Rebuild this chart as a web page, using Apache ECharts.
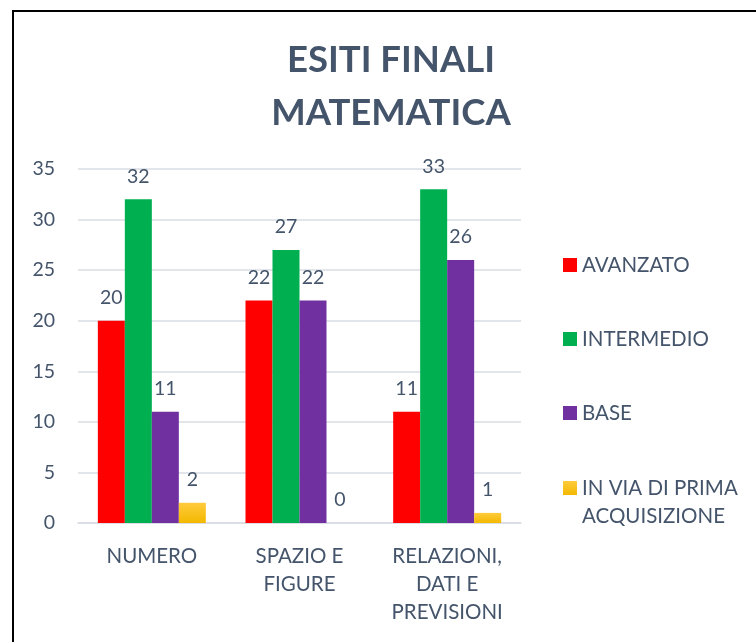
<!doctype html>
<html lang="it">
<head>
    <meta charset="UTF-8">
    <title>Esiti finali matematica</title>
    <script src="https://cdn.jsdelivr.net/npm/echarts@6/dist/echarts.min.js"></script>
    <style>
        html, body { margin: 0; padding: 0; background: #fff; }
        #chart { width: 756px; height: 642px; }
    </style>
</head>
<body>
    <div id="chart"></div>
    <script>
        // dati
        const categorie = ['NUMERO', 'SPAZIO E\nFIGURE', 'RELAZIONI,\nDATI E\nPREVISIONI'];
        const avanzato = [20, 22, 11];
        const intermedio = [32, 27, 33];
        const base = [11, 22, 26];
        const inVia = [2, 0, 1];
        const nomiSerie = ['AVANZATO', 'INTERMEDIO', 'BASE', 'IN VIA DI PRIMA ACQUISIZIONE'];
        const yTicks = { min: 0, max: 35, interval: 5 };

        const testo = '#44546A';
        const font = 'Lato';

        const etichetta = {
            show: true,
            position: 'top',
            distance: 13,
            color: testo,
            fontFamily: font,
            fontSize: 19.5
        };

        function serie(nome, dati, colore) {
            return {
                name: nome,
                type: 'bar',
                data: dati,
                barWidth: 27,
                barGap: '0%',
                itemStyle: { color: colore },
                label: etichetta
            };
        }

        const chart = echarts.init(document.getElementById('chart'));
        chart.setOption({
            animation: false,
            textStyle: { fontFamily: font },
            title: {
                text: 'ESITI FINALI\nMATEMATICA',
                left: 386,
                textAlign: 'center',
                top: 29,
                textStyle: {
                    color: testo,
                    fontFamily: font,
                    fontWeight: 'bold',
                    fontSize: 36.5,
                    lineHeight: 53
                }
            },
            graphic: [{
                type: 'rect',
                shape: { x: 13, y: 11, width: 900, height: 900 },
                style: { fill: 'none', stroke: '#000', lineWidth: 2 },
                silent: true
            }],
            legend: [{
                data: nomiSerie.slice(0, 3),
                orient: 'vertical',
                left: 563,
                top: 251,
                padding: 0,
                itemWidth: 14,
                itemHeight: 14,
                itemGap: 46,
                icon: 'rect',
                textStyle: { color: testo, fontFamily: font, fontSize: 20.5, lineHeight: 28 }
            }, {
                data: nomiSerie.slice(3),
                orient: 'vertical',
                left: 563,
                top: 446,
                padding: 0,
                itemWidth: 14,
                itemHeight: 14,
                icon: 'rect',
                formatter: () => '\nIN VIA DI PRIMA\nACQUISIZIONE',
                textStyle: { color: testo, fontFamily: font, fontSize: 20.5, lineHeight: 28 }
            }],
            grid: { left: 78, right: 235, top: 169, bottom: 119 },
            xAxis: {
                type: 'category',
                data: categorie,
                axisTick: { show: false },
                axisLine: { lineStyle: { color: '#D9DDE3', width: 1.5 } },
                axisLabel: {
                    color: testo,
                    fontFamily: font,
                    fontSize: 20.5,
                    lineHeight: 28,
                    margin: 19,
                    interval: 0
                }
            },
            yAxis: {
                type: 'value',
                min: yTicks.min,
                max: yTicks.max,
                interval: yTicks.interval,
                axisLine: { show: false },
                axisTick: { show: false },
                splitLine: { lineStyle: { color: '#D9DDE3', width: 1.5 } },
                axisLabel: { color: testo, fontFamily: font, fontSize: 19.5, margin: 23 }
            },
            series: [
                serie(nomiSerie[0], avanzato, '#FF0000'),
                serie(nomiSerie[1], intermedio, '#00B050'),
                serie(nomiSerie[2], base, '#7030A0'),
                serie(nomiSerie[3], inVia, new echarts.graphic.LinearGradient(0, 0, 0, 1, [
                    { offset: 0, color: '#FFCB3D' },
                    { offset: 1, color: '#F2B800' }
                ]))
            ]
        });
    </script>
</body>
</html>
